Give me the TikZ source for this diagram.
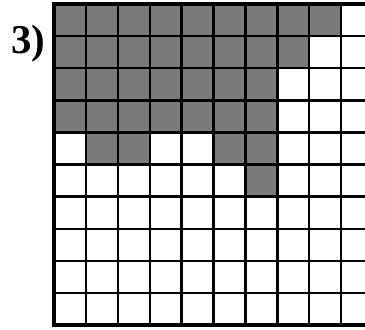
\documentclass[tikz,border=0pt]{standalone}
\usepackage{fontspec}
\setmainfont{Liberation Serif}
\begin{document}
\begin{tikzpicture}[x=1bp,y=-1bp,
  cellshade/.style={fill=black!52},
  gridline/.style={line width=2.4bp,black},
  outerline/.style={line width=3.6bp,black}]
\useasboundingbox (0,0) rectangle (365,330);
\clip (0,0) rectangle (365,330);
\def\cw{31.9}
\def\ch{32.1}
\def\gx{54}
\def\gy{4}
% shaded cells: full-prefix rows
\foreach \r/\n in {0/8,1/7,2/6,3/6}{
  \foreach \c in {0,...,\n}{
    \fill[cellshade] (\gx+\c*\cw,\gy+\r*\ch) rectangle ++(\cw,\ch);
  }
}
% other shaded cells
\foreach \c/\r in {1/4,2/4,5/4,6/4,6/5}{
  \fill[cellshade] (\gx+\c*\cw,\gy+\r*\ch) rectangle ++(\cw,\ch);
}
% grid lines
\foreach \i in {1,...,9}{
  \draw[gridline] (\gx+\i*\cw,\gy) -- (\gx+\i*\cw,\gy+10*\ch);
  \draw[gridline] (\gx,\gy+\i*\ch) -- (\gx+10*\cw,\gy+\i*\ch);
}
\draw[outerline] (\gx,\gy) rectangle (\gx+10*\cw,\gy+10*\ch);
% label
\node[anchor=base west,inner sep=0pt,font=\fontsize{41}{41}\selectfont\bfseries] (label) at (11,53) {3)};
\end{tikzpicture}
\end{document}
